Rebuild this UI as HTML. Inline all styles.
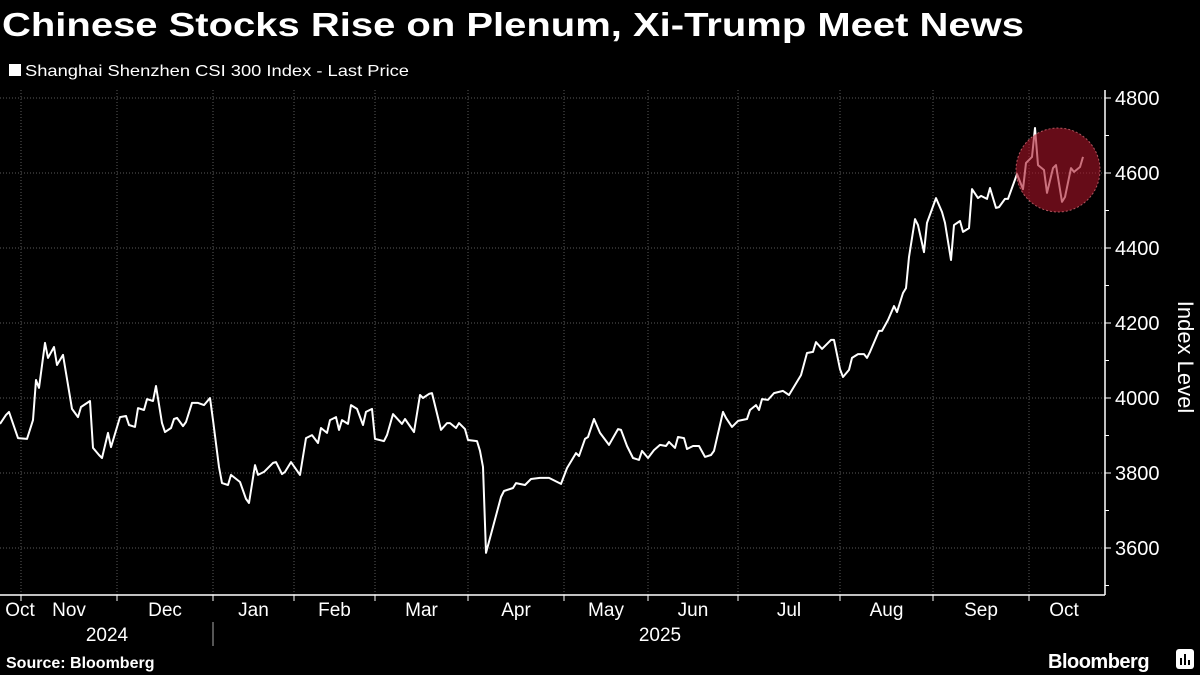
<!DOCTYPE html>
<html><head><meta charset="utf-8"><style>
html,body{margin:0;padding:0;background:#000;}
svg{display:block;font-family:"Liberation Sans",sans-serif;}
</style></head><body>
<svg id="chart" width="1200" height="675" viewBox="0 0 1200 675" xmlns="http://www.w3.org/2000/svg">
<rect width="1200" height="675" fill="#000"/>
<text x="2" y="36" fill="#fff" font-size="33" font-weight="bold" textLength="1022" lengthAdjust="spacingAndGlyphs">Chinese Stocks Rise on Plenum, Xi-Trump Meet News</text>
<rect x="9" y="64" width="12" height="12" fill="#fff"/>
<text x="25" y="76" fill="#fff" font-size="16" textLength="384" lengthAdjust="spacingAndGlyphs">Shanghai Shenzhen CSI 300 Index - Last Price</text>
<g id="grid"></g>
<g id="axes"></g>
<g id="series"></g>
<circle cx="1058" cy="170" r="42" fill="rgba(170,20,40,0.6)" stroke="rgba(230,120,130,0.7)" stroke-width="1" stroke-dasharray="2,2"/>
<text transform="translate(1178,357) rotate(90)" fill="#fff" font-size="22" text-anchor="middle">Index Level</text>
<text x="6" y="668" fill="#fff" font-size="16" font-weight="bold">Source: Bloomberg</text>
<text x="1048" y="668" fill="#fff" font-size="20" font-weight="bold" letter-spacing="-0.5">Bloomberg</text>
<g>
<rect x="1176" y="649" width="18" height="20" rx="3" fill="#fff"/>
<rect x="1180" y="658" width="2" height="7" fill="#000"/><rect x="1184" y="654" width="2" height="11" fill="#000"/><rect x="1188" y="660" width="2" height="5" fill="#000"/>
</g>
</svg>
<script>
const dayIdx=[0,2,3,6,9,11,12,13,15,16,18,19,21,24,26,27,30,31,33,34,36,37,40,42,43,45,46,48,49,51,52,54,55,57,58,59,61,62,64,66,68,70,71,73,74,76,77,80,82,83,85,86,88,91,92,94,95,97,100,102,104,106,107,109,110,112,113,114,116,117,119,121,122,124,125,128,129,131,134,135,138,140,141,143,144,147,149,150,152,153,155,156,159,160,161,162,167,168,171,172,175,177,180,183,187,189,192,193,195,196,198,200,203,206,207,209,211,213,214,216,218,220,222,223,225,226,228,229,231,233,235,237,238,241,242,244,246,249,250,252,253,254,256,258,261,263,267,269,271,272,274,277,278,280,281,283,284,286,288,289,290,293,294,296,298,299,301,302,303,305,306,308,309,312,314,315,317,318,320,321,323,324,326,327,329,330,332,333,335,336,339,341,342,344,345,346,348,349,351,352,354,355,357,358,360,361];
const prices=[3931,3955,3963,3893,3891,3941,4048,4027,4147,4107,4136,4088,4115,3971,3949,3976,3992,3867,3848,3840,3907,3869,3949,3952,3928,3923,3973,3968,3997,3992,4032,3933,3909,3920,3944,3947,3925,3936,3987,3987,3981,4000,3941,3816,3773,3768,3795,3776,3731,3720,3821,3795,3803,3827,3829,3797,3803,3829,3795,3893,3901,3880,3920,3907,3941,3949,3915,3941,3931,3981,3971,3928,3963,3971,3891,3885,3901,3957,3931,3944,3909,4008,4000,4011,4013,3915,3933,3933,3920,3933,3917,3888,3885,3859,3816,3587,3736,3752,3760,3773,3768,3784,3787,3787,3771,3813,3853,3845,3891,3896,3944,3907,3875,3917,3915,3872,3840,3835,3859,3840,3861,3875,3872,3883,3867,3896,3893,3864,3872,3872,3843,3848,3859,3963,3947,3923,3939,3944,3968,3981,3968,3997,3995,4013,4019,4008,4061,4120,4123,4149,4131,4155,4155,4077,4056,4075,4107,4117,4117,4107,4123,4179,4179,4208,4245,4229,4280,4293,4376,4477,4461,4389,4467,4533,4496,4467,4368,4461,4472,4443,4453,4557,4533,4539,4531,4560,4507,4509,4531,4531,4597,4557,4627,4643,4720,4621,4608,4547,4613,4621,4523,4536,4613,4603,4616,4643];
const yTicks=[3600,3800,4000,4200,4400,4600,4800];
const yMinor=[3500,3700,3900,4100,4300,4500,4700];
const monthLabels=["Oct","Nov","Dec","Jan","Feb","Mar","Apr","May","Jun","Jul","Aug","Sep","Oct"];
const monthStarts=[-7,7,39,71,98,125,156,188,216,246,280,311,343,369];
const yearLabels=["2024","2025"];

const NS="http://www.w3.org/2000/svg";
const X0=0,X1=1086,D0=0,D1=362;
const x=t=>X0+(t-D0)/(D1-D0)*(X1-X0);
const Y0=548,Y1=98,V0=3600,V1=4800;
const y=v=>Y0+(v-V0)/(V1-V0)*(Y1-Y0);
function mk(tag,attrs,parent){const e=document.createElementNS(NS,tag);for(const k in attrs)e.setAttribute(k,attrs[k]);parent.appendChild(e);return e;}
const grid=document.getElementById('grid'),axes=document.getElementById('axes'),series=document.getElementById('series');
const AX=1105,BOT=595;
yTicks.forEach(v=>{
  const l=mk('line',{x1:0,x2:AX,y1:y(v),y2:y(v),stroke:'#5a5a5a','stroke-width':1,'stroke-dasharray':'1,2'},grid);
  
  
  const tk=mk('line',{x1:AX,x2:AX+6,y1:y(v),y2:y(v),stroke:'#fff','stroke-width':1},axes);
  
  
  const t=mk('text',{x:AX+10,y:y(v)+7,fill:'#fff','font-size':20},axes);
  t.textContent=v;
  
  
});
yMinor.forEach(v=>{
  const tk=mk('line',{x1:AX,x2:AX+4,y1:y(v),y2:y(v),stroke:'#fff','stroke-width':1},axes);
  
  
});
monthStarts.slice(1,-1).forEach(d=>{
  const l=mk('line',{x1:x(d),x2:x(d),y1:90,y2:BOT,stroke:'#5a5a5a','stroke-width':1,'stroke-dasharray':'1,2'},grid);
  
  
  const tk=mk('line',{x1:x(d),x2:x(d),y1:BOT,y2:BOT+6,stroke:'#fff','stroke-width':1},axes);
  
  
});
monthLabels.forEach((m,i)=>{
  const cx=i===0?x(0)+20:(i===monthLabels.length-1?x(monthStarts[i])+35:(x(monthStarts[i])+x(monthStarts[i+1]))/2);
  const t=mk('text',{x:cx,y:616,fill:'#fff','font-size':19,'text-anchor':'middle'},axes);
  t.textContent=m;
  
  
});
[[yearLabels[0],107],[yearLabels[1],660]].forEach(([s,px])=>{
  const t=mk('text',{x:px,y:641,fill:'#fff','font-size':19,'text-anchor':'middle'},axes);
  t.textContent=s;
  
  
});
const sep=mk('line',{x1:x(monthStarts[3]),x2:x(monthStarts[3]),y1:622,y2:646,stroke:'#aaa','stroke-width':1},axes);


const xa=mk('line',{x1:0,x2:AX,y1:BOT,y2:BOT,stroke:'#fff','stroke-width':1.5},axes);


const ya=mk('line',{x1:AX,x2:AX,y1:90,y2:BOT,stroke:'#fff','stroke-width':1.5},axes);


const d=dayIdx.map((t,i)=>(i?'L':'M')+x(t).toFixed(1)+','+y(prices[i]).toFixed(1)).join(' ');
const p=mk('path',{d:d,fill:'none',stroke:'#fff','stroke-width':2,'stroke-linejoin':'round'},series);


</script>
</body></html>
